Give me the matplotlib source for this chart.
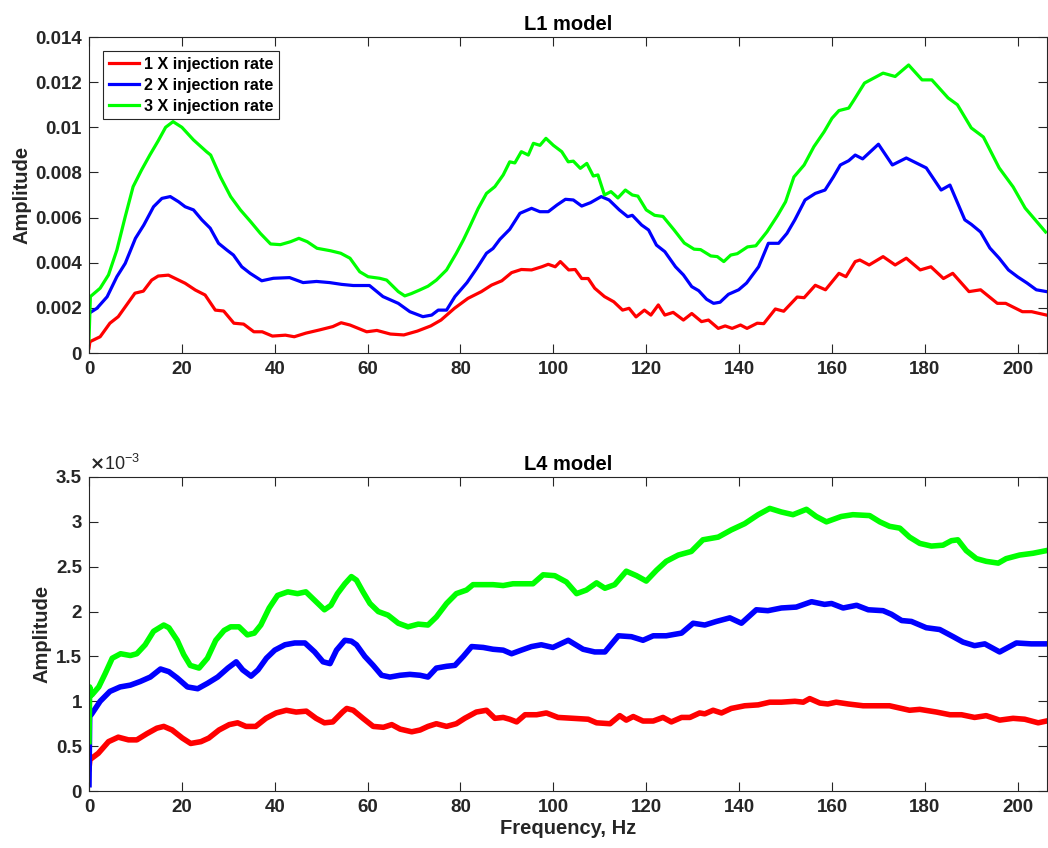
import numpy as np
import matplotlib
matplotlib.use("Agg")
from matplotlib import pyplot as plt

# amplitudes, in units of 1e-3; (frequency Hz, amplitude)
l1_rate1 = [(0, 0.22), (0.2, 0.5), (2.4, 0.72), (4.5, 1.32), (6.3, 1.61), (8.1, 2.13), (9.9, 2.65),
            (11.7, 2.74), (13.5, 3.23), (14.9, 3.41), (17.1, 3.45), (18.9, 3.27), (20.7, 3.09),
            (22.9, 2.79), (25, 2.57), (27.2, 1.9), (29, 1.86), (31.2, 1.32), (33.3, 1.28), (35.5, 0.94),
            (37.3, 0.94), (39.5, 0.75), (42.3, 0.79), (44.2, 0.72), (46.7, 0.88), (49.6, 1.02),
            (52.5, 1.17), (54.3, 1.34), (56.2, 1.24), (59.8, 0.94), (62, 1.0), (64.9, 0.84), (67.8, 0.8),
            (70.7, 0.97), (73.6, 1.2), (75.8, 1.46), (78.7, 1.98), (81.6, 2.42), (84.5, 2.72),
            (86.7, 3.01), (88.9, 3.2), (91, 3.56), (93.1, 3.7), (95.3, 3.68), (97.5, 3.82), (98.9, 3.93),
            (100.4, 3.82), (101.5, 4.05), (103.3, 3.68), (104.7, 3.7), (106.1, 3.3), (107.5, 3.3),
            (108.9, 2.87), (111, 2.5), (113, 2.27), (114.9, 1.9), (116.3, 1.98), (117.8, 1.6),
            (119.6, 1.9), (121, 1.68), (122.6, 2.13), (124, 1.68), (125.8, 1.8), (128, 1.46),
            (129.8, 1.75), (131.9, 1.39), (133.4, 1.46), (135.5, 1.09), (137, 1.2), (138.5, 1.09),
            (140.3, 1.24), (141.7, 1.09), (143.9, 1.32), (145.3, 1.3), (147.8, 1.95), (149.6, 1.85),
            (152.5, 2.48), (154, 2.45), (156.4, 3.0), (158.6, 2.8), (161.5, 3.53), (163, 3.38),
            (165, 4.05), (166, 4.12), (168, 3.9), (171, 4.27), (173.6, 3.9), (176, 4.2), (179, 3.68),
            (181.3, 3.82), (184, 3.3), (186, 3.53), (189.5, 2.72), (192, 2.8), (195.6, 2.2),
            (197.4, 2.2), (201, 1.83), (203, 1.83), (206.2, 1.68)]

l1_rate2 = [(0, 1.76), (1.7, 1.98), (3.9, 2.49), (6, 3.38), (7.8, 3.97), (10, 5.08), (11.8, 5.67),
            (13.9, 6.48), (15.7, 6.85), (17.5, 6.93), (19.3, 6.7), (20.7, 6.48), (22.5, 6.34),
            (24.3, 5.9), (26.1, 5.53), (27.9, 4.86), (29.7, 4.56), (31.1, 4.34), (32.9, 3.82),
            (34.7, 3.53), (37.2, 3.2), (39.7, 3.31), (43.2, 3.34), (46.1, 3.12), (49, 3.17),
            (51.8, 3.12), (54.4, 3.04), (56.9, 2.99), (60.4, 2.99), (63.3, 2.5), (66.6, 2.2),
            (69.1, 1.83), (71.9, 1.61), (73.8, 1.68), (75.2, 1.9), (77, 1.9), (78.8, 2.5), (81.4, 3.12),
            (83.5, 3.75), (85.6, 4.42), (87, 4.63), (88.5, 5.04), (90.6, 5.48), (92.8, 6.19),
            (95.3, 6.41), (97.1, 6.26), (98.9, 6.26), (100.8, 6.56), (102.6, 6.81), (104.3, 6.78),
            (106.1, 6.51), (108, 6.66), (110.3, 6.93), (112, 6.78), (114.2, 6.34), (116, 6.04),
            (117, 6.1), (119, 5.67), (120.5, 5.45), (122.2, 4.78), (124, 4.49), (126.3, 3.82),
            (128, 3.46), (129.8, 2.94), (131.3, 2.76), (133, 2.38), (134.5, 2.2), (135.9, 2.25),
            (137.7, 2.6), (139.9, 2.8), (141.6, 3.1), (144.2, 3.82), (146.3, 4.86), (148.5, 4.86),
            (150.3, 5.3), (152, 5.9), (154.2, 6.78), (156.4, 7.07), (158.5, 7.22), (160.3, 7.8),
            (161.8, 8.33), (163.6, 8.52), (165, 8.77), (166.6, 8.6), (170, 9.25), (173, 8.33),
            (176, 8.64), (180.3, 8.2), (183.5, 7.22), (185.4, 7.44), (188.6, 5.9), (190, 5.7),
            (192, 5.36), (194, 4.65), (196, 4.2), (198, 3.68), (200, 3.37), (202, 3.1), (204, 2.8),
            (206.2, 2.72)]

l1_rate3 = [(0, 0.58), (0.3, 2.5), (2.4, 2.87), (4.2, 3.46), (6, 4.56), (7.8, 6.04), (9.5, 7.37),
            (11.3, 8.1), (13.1, 8.77), (14.9, 9.4), (16.5, 10.0), (18.1, 10.25), (20, 10.0),
            (22.5, 9.44), (25.3, 8.92), (26.2, 8.77), (28.3, 7.8), (30.5, 6.93), (32.6, 6.34),
            (34.8, 5.82), (36.9, 5.3), (39.1, 4.83), (41.2, 4.8), (43.4, 4.93), (45.2, 5.08),
            (47, 4.93), (49.1, 4.64), (52, 4.53), (54.2, 4.42), (56.2, 4.2), (58.3, 3.6), (60.1, 3.38),
            (62.6, 3.31), (64.1, 3.23), (66.6, 2.72), (68, 2.53), (69.4, 2.63), (71.2, 2.79),
            (73, 2.96), (74.8, 3.23), (77, 3.68), (79.1, 4.42), (80.6, 5.0), (82, 5.6), (83.8, 6.4),
            (85.6, 7.07), (87.4, 7.37), (89.2, 7.89), (90.6, 8.47), (91.7, 8.42), (93.1, 8.92),
            (94.6, 8.77), (95.7, 9.29), (97.1, 9.2), (98.4, 9.51), (100, 9.2), (101.8, 8.92),
            (103.2, 8.47), (104.3, 8.5), (105.8, 8.18), (107.2, 8.4), (108.6, 7.84), (109.6, 7.89),
            (111, 7.0), (112.4, 7.15), (113.9, 6.87), (115.5, 7.22), (117, 7.0), (118.2, 6.95),
            (120, 6.34), (121.8, 6.1), (123.6, 6.05), (126, 5.45), (128.2, 4.87), (130.3, 4.6),
            (131.7, 4.58), (133.9, 4.3), (135.3, 4.27), (136.7, 4.05), (138.2, 4.34), (139.6, 4.4),
            (141.8, 4.7), (143.6, 4.75), (146, 5.37), (148.3, 6.1), (150, 6.7), (151.8, 7.8),
            (154, 8.33), (156.1, 9.14), (158.3, 9.8), (160, 10.4), (161.5, 10.74), (163.6, 10.85),
            (164.7, 11.2), (167, 11.96), (171, 12.4), (173.6, 12.25), (176.5, 12.76), (179.4, 12.1),
            (181.5, 12.1), (185, 11.3), (187, 11.0), (190, 9.97), (192.6, 9.57), (196, 8.2),
            (199, 7.36), (201.6, 6.42), (206, 5.36)]

l4_rate1 = [(0, 0.25), (0.2, 0.35), (2, 0.42), (4.2, 0.55), (6.3, 0.6), (8.5, 0.57), (10.3, 0.57),
            (12.5, 0.64), (14.6, 0.7), (16.1, 0.72), (17.9, 0.68), (20.1, 0.59), (21.9, 0.53),
            (24.1, 0.55), (25.8, 0.59), (28, 0.68), (30.2, 0.74), (32, 0.76), (33.8, 0.72),
            (35.9, 0.72), (38.1, 0.81), (40.3, 0.87), (42.5, 0.9), (44.6, 0.88), (46.8, 0.89),
            (48.9, 0.81), (50.7, 0.76), (52.5, 0.77), (54.6, 0.88), (55.5, 0.92), (56.9, 0.9),
            (59, 0.81), (61.2, 0.72), (63.4, 0.71), (65.2, 0.74), (67, 0.69), (69.5, 0.66),
            (71.3, 0.68), (73, 0.72), (74.8, 0.75), (77, 0.72), (79.1, 0.75), (80.9, 0.81),
            (83.4, 0.88), (85.6, 0.9), (87.4, 0.81), (89.2, 0.82), (90.6, 0.8), (92.1, 0.77),
            (93.9, 0.85), (96.4, 0.85), (98.5, 0.87), (101, 0.82), (104.3, 0.81), (107.5, 0.8),
            (109.3, 0.76), (112.2, 0.75), (114.3, 0.84), (115.7, 0.79), (117.2, 0.83), (119.3, 0.78),
            (121.5, 0.78), (123.6, 0.82), (125.4, 0.77), (127.6, 0.82), (129.4, 0.82), (131.5, 0.87),
            (132.6, 0.86), (134.4, 0.9), (136.2, 0.87), (138.3, 0.92), (141.2, 0.95), (144.1, 0.96),
            (146.6, 0.99), (149.1, 0.99), (152, 1.0), (153.8, 0.99), (155.2, 1.03), (157.4, 0.98),
            (159.1, 0.97), (160.9, 0.99), (163.5, 0.97), (166.7, 0.95), (172.4, 0.95), (176.7, 0.9),
            (178.9, 0.91), (182.5, 0.88), (185.4, 0.85), (187.9, 0.85), (190.7, 0.82), (193.2, 0.84),
            (196.1, 0.79), (199, 0.81), (201.5, 0.8), (204.4, 0.76), (206.2, 0.78)]

l4_rate2 = [(0, 0.07), (0.15, 0.83), (0.6, 0.86), (2.4, 1.0), (4.5, 1.11), (6.7, 1.16), (8.9, 1.18),
            (11, 1.22), (13.2, 1.27), (15.4, 1.36), (17.2, 1.33), (19, 1.26), (21.2, 1.16),
            (23.4, 1.14), (25.5, 1.2), (27.7, 1.27), (29.9, 1.37), (31.7, 1.44), (33.1, 1.35),
            (34.9, 1.28), (36.4, 1.35), (38.2, 1.48), (40, 1.57), (42.2, 1.63), (44.3, 1.65),
            (46.5, 1.65), (48.6, 1.55), (50.4, 1.44), (51.9, 1.42), (53.3, 1.57), (55.1, 1.68),
            (56.5, 1.67), (57.6, 1.63), (59.4, 1.5), (61.2, 1.4), (63, 1.29), (64.8, 1.27), (67, 1.29),
            (69.1, 1.3), (71.3, 1.29), (73, 1.27), (74.8, 1.37), (77, 1.39), (78.8, 1.4), (80.6, 1.5),
            (82.4, 1.61), (84.9, 1.6), (87, 1.58), (89.2, 1.57), (91, 1.53), (93.1, 1.57),
            (95.3, 1.61), (97.4, 1.63), (99.9, 1.6), (103.2, 1.68), (106.4, 1.58), (108.9, 1.55),
            (111.1, 1.55), (114, 1.73), (116.8, 1.72), (119.3, 1.68), (121.5, 1.73), (124.3, 1.73),
            (127.6, 1.76), (130.1, 1.87), (132.6, 1.85), (135.1, 1.89), (138, 1.93), (140.5, 1.87),
            (143.7, 2.02), (146.2, 2.01), (149.1, 2.04), (152.3, 2.05), (155.6, 2.11), (158.4, 2.08),
            (159.9, 2.09), (162.4, 2.04), (165.3, 2.07), (167.8, 2.02), (171, 2.01), (172.8, 1.97),
            (175, 1.9), (177.1, 1.89), (180.3, 1.82), (183.2, 1.8), (186.1, 1.72), (188.2, 1.66),
            (190.7, 1.62), (192.9, 1.64), (196.1, 1.55), (199.7, 1.65), (202.9, 1.64), (206.2, 1.64)]

l4_rate3 = [(0, 0.55), (0.15, 1.16), (0.6, 1.07), (2.1, 1.16), (3.5, 1.31), (5, 1.48), (6.8, 1.53),
            (8.9, 1.51), (10.3, 1.53), (12.1, 1.63), (13.9, 1.78), (16.1, 1.85), (17.2, 1.82),
            (19, 1.68), (20.4, 1.52), (21.8, 1.4), (23.7, 1.37), (25.5, 1.48), (27.3, 1.68),
            (29.1, 1.79), (30.5, 1.83), (32.3, 1.83), (34.1, 1.74), (35.6, 1.76), (37, 1.85),
            (38.8, 2.04), (40.6, 2.18), (42.8, 2.22), (44.9, 2.2), (46.7, 2.22), (48.5, 2.13),
            (50.7, 2.02), (52.1, 2.07), (53.5, 2.2), (55.1, 2.31), (56.5, 2.39), (57.6, 2.35),
            (59, 2.22), (60.5, 2.09), (62.3, 2.0), (64.4, 1.96), (66.6, 1.87), (68.7, 1.83),
            (70.9, 1.86), (73, 1.85), (74.8, 1.94), (77, 2.09), (79.1, 2.2), (81.3, 2.24), (82.7, 2.3),
            (84.9, 2.3), (87, 2.3), (89.2, 2.29), (91.3, 2.31), (93.5, 2.31), (95.6, 2.31),
            (97.8, 2.41), (100.3, 2.4), (102.8, 2.33), (105, 2.2), (107.1, 2.24), (109.3, 2.32),
            (111.1, 2.26), (113.2, 2.3), (115.7, 2.45), (117.9, 2.4), (120, 2.34), (122.2, 2.46),
            (124.3, 2.56), (126.9, 2.63), (129.7, 2.67), (132.2, 2.8), (135.5, 2.83), (138.3, 2.91),
            (141.2, 2.98), (144.1, 3.08), (146.6, 3.15), (149.1, 3.11), (151.6, 3.08), (154.5, 3.14),
            (156.6, 3.06), (158.8, 3.0), (162, 3.06), (164.5, 3.08), (168.1, 3.07), (170.3, 3.0),
            (172.4, 2.95), (174.6, 2.93), (176.7, 2.83), (178.9, 2.76), (181.4, 2.73), (183.9, 2.74),
            (185.7, 2.79), (187.1, 2.8), (188.9, 2.68), (191.1, 2.59), (193.2, 2.56), (195.8, 2.54),
            (197.5, 2.59), (200.4, 2.63), (203.3, 2.65), (206.2, 2.68)]

labels = ["1 X injection rate", "2 X injection rate", "3 X injection rate"]
colors = ["#ff0000", "#0000ff", "#00ff00"]
l1_yticks = [0, 0.002, 0.004, 0.006, 0.008, 0.01, 0.012, 0.014]
l4_yticks = [0, 0.5, 1, 1.5, 2, 2.5, 3, 3.5]
xticks = [0, 20, 40, 60, 80, 100, 120, 140, 160, 180, 200]

DARK = "#262626"
TICK_FS = 13.5
LABEL_FS = 14.5
plt.rcParams['font.family'] = ['Liberation Sans', 'DejaVu Sans']
plt.rcParams['font.weight'] = 'bold'
plt.rcParams['axes.labelweight'] = 'bold'
plt.rcParams['axes.titleweight'] = 'bold'

fig = plt.figure(figsize=(10.48, 8.48), dpi=100)
ax1 = fig.add_axes([89 / 1048, 1 - 353 / 848, 958 / 1048, 316 / 848])
ax2 = fig.add_axes([89 / 1048, 1 - 791 / 848, 958 / 1048, 314 / 848])


def style_axes(ax):
    ax.set_xlim(0, 206.3)
    ax.set_xticks(xticks)
    ax.tick_params(direction='in', length=6.5, width=0.8, top=True, right=True,
                   labelsize=TICK_FS, colors=DARK)
    ax.tick_params(axis='x', pad=6)
    ax.tick_params(axis='y', pad=5)
    for lab in ax.get_xticklabels() + ax.get_yticklabels():
        lab.set_fontweight('bold')
    for sp in ax.spines.values():
        sp.set_color(DARK)
        sp.set_linewidth(0.8)


# top panel: values stored in 1e-3, plotted as true amplitudes
for series, c, lab in zip([l1_rate1, l1_rate2, l1_rate3], colors, labels):
    f, a = np.array(series).T
    ax1.plot(f, a * 1e-3, color=c, lw=2.3, label=lab)
ax1.set_ylim(0, 0.014)
ax1.set_yticks(l1_yticks)
ax1.set_yticklabels(["%g" % v for v in l1_yticks])
style_axes(ax1)
ax1.set_title("L1 model", fontsize=LABEL_FS, color='black', pad=5)
ax1.set_ylabel("Amplitude", fontsize=LABEL_FS, color=DARK, labelpad=3)
leg = ax1.legend(loc='upper left', bbox_to_anchor=(0.0146, 0.956), fontsize=11.6,
                 handlelength=1.9, handletextpad=0.3, borderpad=0.35, labelspacing=0.38,
                 borderaxespad=0, fancybox=False, framealpha=1)
leg.get_frame().set_edgecolor(DARK)
leg.get_frame().set_linewidth(0.8)
for t in leg.get_texts():
    t.set_fontweight('bold')

# bottom panel: values in units of 1e-3 with the multiplier shown above the axis
for series, c in zip([l4_rate1, l4_rate2, l4_rate3], colors):
    f, a = np.array(series).T
    ax2.plot(f, a, color=c, lw=4.0)
ax2.set_ylim(0, 3.5)
ax2.set_yticks(l4_yticks)
ax2.set_yticklabels(["%g" % v for v in l4_yticks])
style_axes(ax2)
ax2.set_title("L4 model", fontsize=LABEL_FS, color='black', pad=5)
ax2.set_ylabel("Amplitude", fontsize=LABEL_FS, color=DARK, labelpad=3)
ax2.set_xlabel("Frequency, Hz", fontsize=LABEL_FS, color=DARK, labelpad=2)
ax2.text(0.0, 1.01, r"$\times\mathregular{10^{-3}}$", transform=ax2.transAxes,
         fontsize=13, color=DARK, fontweight='normal', ha='left', va='bottom')

fig.savefig("out.png", dpi=100)
